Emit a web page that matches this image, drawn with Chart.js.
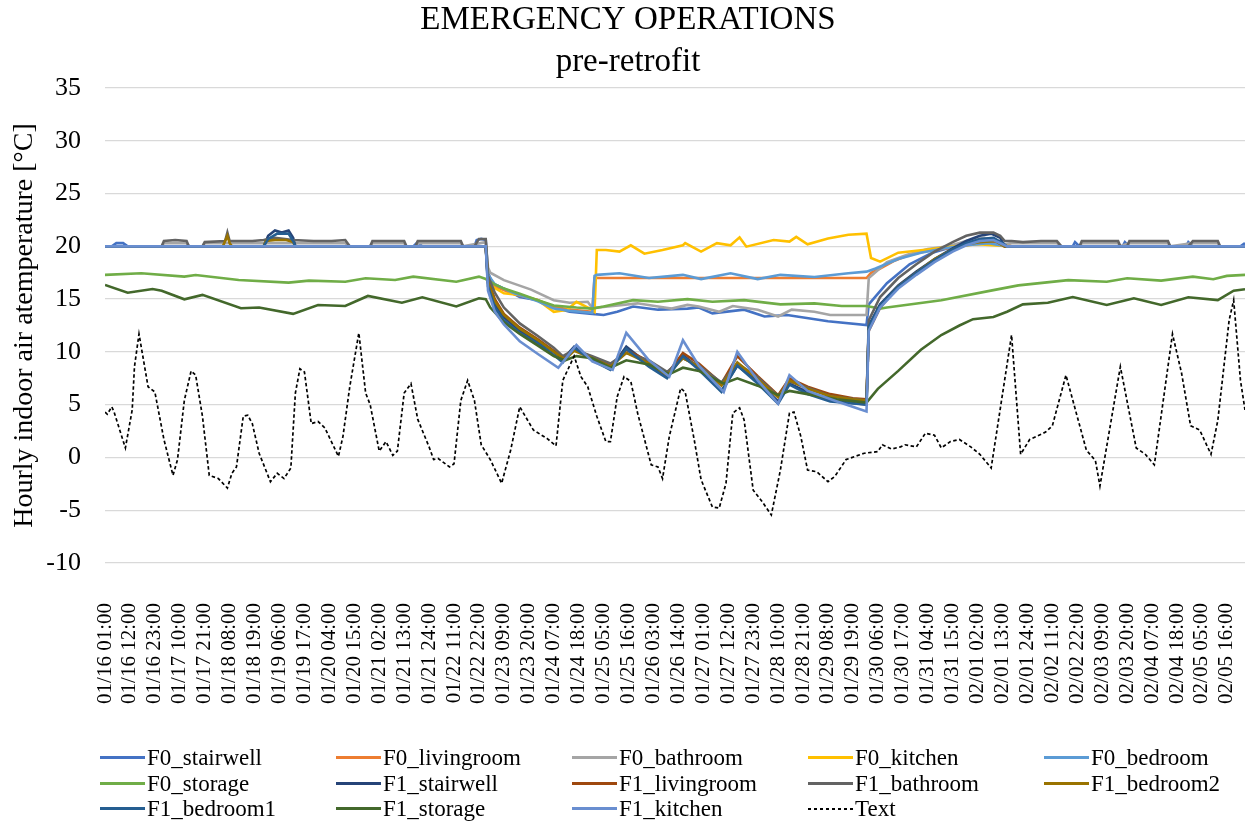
<!DOCTYPE html>
<html>
<head>
<meta charset="utf-8">
<title>Emergency operations - pre-retrofit</title>
<script src="https://cdn.jsdelivr.net/npm/chart.js@4.4.1/dist/chart.umd.min.js"></script>
<style>
  body { margin: 0; background: #fff; }
  #wrap { position: relative; width: 1248px; height: 822px; }
  #legend {
    position: absolute; left: 100px; top: 745px;
    display: grid; grid-template-columns: repeat(5, 236px);
    font-family: "Liberation Serif", "Times New Roman", serif;
    font-size: 23px; line-height: 25.5px; color: #000;
  }
  .item { display: flex; align-items: center; white-space: nowrap; }
  .swatch { width: 45px; height: 3px; margin-right: 2px; }
</style>
</head>
<body>
<div id="wrap">
  <canvas id="myChart" width="1248" height="822"></canvas>
  <div id="legend"></div>
</div>
<script>
// x = hour index (0 = 01/16 01:00, 503 = 02/05 24:00), y = °C
const tickLabels = [
  '01/16 01:00','01/16 12:00','01/16 23:00','01/17 10:00','01/17 21:00','01/18 08:00',
  '01/18 19:00','01/19 06:00','01/19 17:00','01/20 04:00','01/20 15:00','01/21 02:00',
  '01/21 13:00','01/21 24:00','01/22 11:00','01/22 22:00','01/23 09:00','01/23 20:00',
  '01/24 07:00','01/24 18:00','01/25 05:00','01/25 16:00','01/26 03:00','01/26 14:00',
  '01/27 01:00','01/27 12:00','01/27 23:00','01/28 10:00','01/28 21:00','01/29 08:00',
  '01/29 19:00','01/30 06:00','01/30 17:00','01/31 04:00','01/31 15:00','02/01 02:00',
  '02/01 13:00','02/01 24:00','02/02 11:00','02/02 22:00','02/03 09:00','02/03 20:00',
  '02/04 07:00','02/04 18:00','02/05 05:00','02/05 16:00'
]
const tickHours = tickLabels.map((l, i) => i * 11)

const seriesNames = [
  'F0_stairwell','F0_livingroom','F0_bathroom','F0_kitchen','F0_bedroom',
  'F0_storage','F1_stairwell','F1_livingroom','F1_bathroom','F1_bedroom2',
  'F1_bedroom1','F1_storage','F1_kitchen','Text'
]

const f0Stairwell = [[0,20],[3,20],[5,20.3],[8,20.3],[10,20],[136,20],[138,20.4],[140,20],[163,20],[164,20.6],[166,20.7],[168,20.6],
  [169,17.5],[171,16.5],[176,16.0],[183,15.2],[191,14.9],[198,14.2],[205,13.8],[215,13.6],[220,13.5],[226,13.8],[233,14.3],
  [244,14.0],[257,14.1],[262,14.2],[268,13.65],[282,14.0],[291,13.35],[301,13.5],[319,12.9],[336,12.55],
  [337,14.5],[345,16.5],[355,18.3],[365,19.4],[375,20.0],[385,20.3],[395,20.2],[400,20],[427,20],[428,20.4],[430,20],
  [449,20],[450,20.4],[452,20],[477,20],[478,20.4],[480,20],[501,20],[503,20.3]]
const f0Livingroom = [[0,20],[168,20],[169,17.0],[172,16.2],[180,15.5],[191,14.9],[198,14.3],[205,14.0],[215,13.8],
  [216,17.0],[336,17.0],[338,17.5],[342,17.9],[348,18.6],[355,19.2],[364,19.6],[375,19.9],[385,20.3],[395,20.3],[400,20],[503,20]]
const f0Bathroom = [[0,20],[25,20],[26,20.3],[36,20.3],[37,20],[43,20],[44,20.3],[106,20.3],[108,20],[117,20],[118,20.3],
  [132,20.3],[133,20],[137,20],[138,20.3],[157,20.3],[158,20],[168,20.4],
  [169,18.0],[170,17.5],[176,16.8],[188,15.9],[198,14.9],[205,14.66],[213,14.75],[215,14.15],[222,14.3],[235,14.6],
  [244,14.3],[250,14.1],[257,14.45],[262,14.3],[271,13.8],[277,14.35],[288,14.0],[297,13.35],[303,14.0],[313,13.8],
  [320,13.5],[336,13.5],[337,17.0],[345,18.5],[354,19.2],[363,19.75],[372,20.0],[380,20.5],[388,20.8],[393,20.5],
  [397,20.2],[400,20.3],[420,20.3],[422,20],[430,20],[431,20.3],[447,20.3],[448,20],[452,20.3],[469,20.3],[470,20],
  [480,20.3],[491,20.3],[492,20],[503,20]]
const f0Kitchen = [[0,20],[168,20],[169,17.0],[170,16.3],[176,15.55],[183,15.4],[191,14.9],[198,13.8],[204,14.0],
  [208,14.75],[214,14.1],[216,13.8],[217,19.65],[221,19.65],[227,19.5],[232,20.1],[238,19.3],[246,19.65],[255,20.1],
  [256,20.3],[263,19.5],[270,20.3],[276,20.1],[280,20.85],[283,19.97],[295,20.6],[302,20.45],[305,20.9],[310,20.2],
  [319,20.75],[328,21.1],[336,21.2],[338,18.9],[342,18.55],[350,19.4],[363,19.7],[375,20.0],[385,20.2],[400,20],[503,20]]
const f0Bedroom = [[0,20],[168,20],[169,17.3],[172,16.4],[180,15.6],[191,14.8],[198,14.1],[205,13.9],[215,13.7],
  [216,17.2],[217,17.3],[227,17.45],[240,17.0],[255,17.3],[263,16.9],[276,17.45],[288,16.9],[298,17.3],[313,17.1],
  [328,17.45],[336,17.6],[340,17.9],[350,18.8],[360,19.4],[370,19.8],[380,20.1],[390,20.3],[398,20],[503,20]]
const f0Storage = [[0,17.3],[16,17.45],[35,17.13],[40,17.28],[59,16.81],[81,16.56],[90,16.75],[106,16.65],[115,16.97],
  [128,16.81],[136,17.13],[155,16.65],[165,17.13],[168,16.9],[172,16.4],[176,16.0],[183,15.5],[191,14.9],[198,14.4],
  [208,14.2],[215,14.1],[220,14.3],[233,14.9],[244,14.75],[257,15.0],[268,14.75],[282,14.9],[298,14.5],[313,14.6],
  [325,14.35],[336,14.35],[342,14.1],[345,14.2],[369,14.9],[392,15.85],[403,16.3],[425,16.8],[442,16.65],[451,16.97],
  [466,16.75],[480,17.13],[489,16.88],[495,17.2],[503,17.3]]
const f1Stairwell = [[0,20],[70,20],[72,21.0],[75,21.5],[78,21.3],[81,21.5],[83,20.8],[84,20],[168,20],
  [169,16.5],[172,14.5],[176,13.3],[183,12.0],[191,11.0],[198,10.0],[202,9.3],[207,10.5],[215,9.3],[223,8.4],[230,10.5],
  [240,8.8],[248,7.6],[255,9.7],[262,8.5],[272,6.3],[279,8.7],[288,7.2],[297,5.3],[302,7.0],[310,6.2],[320,5.4],[336,5.0],
  [337,12.5],[342,14.5],[350,16.3],[358,17.6],[366,18.8],[374,19.8],[380,20.5],[386,21.0],[391,21.2],[395,20.8],[397,20],[503,20]]
const f1Livingroom = [[0,20],[168,20],[169,16.8],[172,15.0],[176,13.6],[183,12.3],[191,11.2],[198,10.1],[203,9.4],
  [207,10.3],[215,9.5],[223,8.7],[230,10.2],[240,9.1],[248,7.9],[255,9.9],[262,8.9],[272,7.0],[279,9.6],[288,7.7],
  [297,5.9],[302,7.5],[310,6.7],[320,6.0],[330,5.6],[336,5.5],[337,12.0],[342,14.2],[350,16.2],[358,17.5],[366,18.7],
  [374,19.6],[380,20.2],[386,20.5],[393,20.5],[397,20],[503,20]]
const f1Bathroom = [[0,20],[25,20],[26,20.5],[31,20.6],[36,20.5],[37,20],[43,20],[44,20.4],[53,20.5],[54,21.3],[55,20.5],
  [65,20.5],[70,20.6],[75,20.8],[83,20.6],[92,20.5],[100,20.5],[106,20.6],[108,20],[117,20],[118,20.5],[132,20.5],
  [133,20],[137,20],[138,20.5],[157,20.5],[158,20],[163,20],[165,20.7],[168,20.7],
  [169,17.2],[172,15.6],[176,14.2],[183,12.7],[191,11.5],[198,10.4],[202,9.6],[207,10.2],[215,9.6],[223,8.9],[230,9.9],
  [240,9.2],[248,8.1],[255,9.4],[262,8.7],[272,7.1],[279,8.9],[288,7.6],[297,5.8],[302,7.2],[310,6.6],[320,5.8],[336,5.4],
  [337,13.0],[342,15.2],[350,17.0],[358,18.3],[366,19.5],[374,20.4],[380,21.0],[386,21.3],[392,21.3],[395,21.0],
  [397,20.5],[400,20.5],[405,20.4],[413,20.5],[420,20.5],[422,20],[430,20],[431,20.5],[447,20.5],[448,20],[451,20],
  [452,20.5],[469,20.5],[470,20],[478,20],[480,20.5],[491,20.5],[492,20],[503,20]]
const f1Bedroom2 = [[0,20],[52,20],[53,20.5],[54,21.0],[55,20.3],[56,20],[70,20],[71,20.5],[75,20.6],[80,20.6],[83,20.4],
  [84,20],[168,20],[169,16.6],[172,14.8],[176,13.5],[183,12.2],[191,11.1],[198,10.0],[203,9.3],[207,10.1],[215,9.4],
  [223,8.6],[230,9.9],[240,8.9],[248,7.8],[255,9.4],[262,8.6],[272,6.8],[279,9.0],[288,7.4],[297,5.7],[302,7.3],[310,6.5],
  [320,5.8],[330,5.5],[336,5.4],[337,12.2],[342,14.3],[350,16.2],[358,17.5],[366,18.8],[374,19.7],[380,20.2],[386,20.4],
  [393,20.5],[397,20],[503,20]]
const f1Bedroom1 = [[0,20],[70,20],[72,20.7],[76,21.2],[81,21.2],[83,20.5],[84,20],[168,20],[169,16.2],[172,14.2],
  [176,13.0],[183,11.8],[191,10.8],[198,9.7],[202,9.0],[207,10.4],[215,9.2],[223,8.3],[230,10.3],[240,8.6],[248,7.5],
  [255,9.6],[262,8.3],[272,6.2],[279,8.7],[288,7.0],[297,5.1],[302,6.9],[310,6.0],[320,5.3],[336,5.0],[337,12.4],
  [342,14.4],[350,16.2],[358,17.5],[366,18.7],[374,19.7],[380,20.3],[386,20.7],[392,20.8],[396,20.3],[398,20],[503,20]]
const f1Storage = [[0,16.34],[10,15.6],[21,15.96],[25,15.8],[35,14.98],[43,15.4],[60,14.13],[68,14.2],[83,13.6],[94,14.44],
  [106,14.35],[116,15.3],[131,14.66],[140,15.17],[155,14.3],[165,15.08],[168,15.0],[170,14.2],[176,12.8],[183,11.7],
  [191,10.6],[198,9.6],[203,9.2],[208,9.6],[215,9.4],[223,8.5],[230,9.2],[240,8.8],[249,7.9],[255,8.5],[262,8.2],
  [273,7.0],[279,7.5],[288,6.8],[297,5.9],[302,6.3],[310,6.0],[323,5.5],[336,5.2],[341,6.5],[350,8.2],[360,10.2],
  [369,11.6],[377,12.5],[383,13.1],[392,13.3],[398,13.8],[405,14.5],[416,14.66],[427,15.2],[442,14.44],[454,15.08],
  [466,14.44],[478,15.17],[491,14.9],[498,15.8],[503,15.93]]
const f1Kitchen = [[0,20],[168,20],[169,15.8],[172,13.8],[176,12.6],[183,11.0],[191,9.8],[200,8.5],[208,10.65],
  [215,9.1],[224,8.3],[230,11.8],[240,9.2],[249,7.65],[255,11.1],[262,8.7],[273,6.2],[279,10.0],[288,7.3],[297,5.1],
  [302,7.8],[310,6.3],[323,5.3],[336,4.35],[337,12.0],[342,14.2],[350,16.0],[358,17.3],[366,18.5],[374,19.5],[380,20.1],
  [386,20.5],[392,20.6],[396,20.2],[398,20],[503,20]]
const outdoorText = [[0,4.3],[1,4.1],[3,4.8],[4,4.3],[9,0.9],[12,4.5],[13,8.6],[15,11.7],[19,6.7],[22,6.2],[26,1.7],
  [30,-1.7],[32,-0.2],[35,5.4],[38,8.2],[40,7.8],[43,3.9],[46,-1.7],[50,-2.0],[54,-2.9],[56,-1.5],[58,-0.9],[61,3.9],
  [63,4.0],[65,3.2],[68,0.4],[73,-2.3],[76,-1.5],[79,-2.0],[82,-1.0],[84,6.1],[86,8.4],[88,8.1],[91,3.2],[94,3.4],
  [97,2.8],[103,0.1],[105,2.0],[108,6.7],[112,11.8],[115,6.1],[117,5.0],[121,0.6],[124,1.5],[127,0.2],[129,0.6],
  [132,6.1],[135,7.0],[138,3.6],[143,1.0],[145,-0.2],[147,-0.1],[152,-0.9],[154,-0.6],[157,5.4],[160,7.3],[163,5.4],
  [166,1.2],[170,-0.2],[175,-2.45],[179,0.7],[183,4.8],[189,2.6],[195,1.8],[199,1.1],[202,7.3],[207,9.6],[210,7.65],
  [213,6.7],[217,3.9],[221,1.5],[223,1.5],[226,5.75],[229,7.65],[232,7.2],[235,4.2],[241,-0.7],[244,-0.9],[246,-2.0],
  [249,2.0],[254,6.55],[256,6.2],[260,1.65],[263,-2.1],[268,-4.7],[271,-4.8],[274,-2.45],[277,4.2],[280,4.7],[282,3.55],
  [286,-3.1],[290,-4.2],[294,-5.45],[298,-1.2],[302,4.2],[304,4.3],[307,2.0],[310,-1.2],[314,-1.35],[319,-2.3],
  [322,-1.8],[327,-0.2],[335,0.4],[341,0.55],[343,1.2],[347,0.8],[351,1.0],[353,1.2],[358,1.0],[362,2.3],[366,2.1],
  [369,0.9],[373,1.5],[377,1.7],[382,1.0],[386,0.3],[391,-1.0],[400,11.6],[404,0.3],[408,1.7],[415,2.4],[418,3.0],
  [424,7.8],[433,0.7],[437,-0.3],[439,-2.7],[448,8.6],[455,0.9],[459,0.3],[463,-0.7],[471,11.7],[475,8.0],[479,3.0],
  [483,2.6],[488,0.3],[491,3.5],[496,13.0],[498,14.9],[501,7.3],[503,4.5]]

const seriesData = [f0Stairwell, f0Livingroom, f0Bathroom, f0Kitchen, f0Bedroom, f0Storage, f1Stairwell,
  f1Livingroom, f1Bathroom, f1Bedroom2, f1Bedroom1, f1Storage, f1Kitchen, outdoorText]

const seriesColors = ['#4472C4','#ED7D31','#A5A5A5','#FFC000','#5B9BD5','#70AD47','#264478',
  '#9E480E','#636363','#997300','#255E91','#43682B','#698ED0','#000000']

const serif = '"Liberation Serif", "Times New Roman", serif'

const datasets = seriesNames.map((name, i) => {
  const isText = name === 'Text'
  return {
    label: name,
    data: seriesData[i].map(([x, y]) => ({x, y})),
    borderColor: seriesColors[i],
    backgroundColor: seriesColors[i],
    borderWidth: isText ? 1.7 : 2.6,
    borderDash: isText ? [3.5, 2.5] : [],
    pointRadius: 0,
    tension: 0,
    fill: false,
    order: -i   // later series on top, like the original
  }
})

const chart = new Chart(document.getElementById('myChart'), {
  type: 'line',
  data: { datasets },
  options: {
    responsive: false,
    animation: false,
    layout: { padding: { left: 8, right: 0, top: 0, bottom: 115 } },
    plugins: {
      legend: { display: false },
      tooltip: { enabled: false },
      title: {
        display: true,
        text: ['EMERGENCY OPERATIONS', 'pre-retrofit'],
        color: '#000',
        font: { family: serif, size: 33, weight: 'normal', lineHeight: 1.25 },
        padding: { top: 0, bottom: 5.5 }
      }
    },
    scales: {
      x: {
        type: 'linear',
        min: 0,
        max: 503,
        afterBuildTicks: scale => { scale.ticks = tickHours.map(v => ({ value: v })) },
        // fixed band for the rotated labels, no extra side padding
        afterFit: scale => { scale.height = 144; scale.paddingLeft = 0; scale.paddingRight = 3 },
        grid: { display: false, drawTicks: false },
        border: { display: false },
        ticks: {
          autoSkip: false,
          minRotation: 90,
          maxRotation: 90,
          padding: 40,
          color: '#000',
          font: { family: serif, size: 21 },
          callback: value => tickLabels[tickHours.indexOf(value)]
        }
      },
      y: {
        min: -10,
        max: 35,
        afterFit: scale => { scale.width = 97 },
        grid: { color: '#d9d9d9', lineWidth: 1.3, drawTicks: false },
        border: { display: false },
        ticks: {
          stepSize: 5,
          padding: 24,
          color: '#000',
          font: { family: serif, size: 26 }
        },
        title: {
          display: true,
          text: 'Hourly indoor air atemperature [°C]',
          color: '#000',
          font: { family: serif, size: 28 },
          padding: { top: 0, bottom: 4 }
        }
      }
    }
  }
})

// legend in 5 fixed columns, like the original
const legendBox = document.getElementById('legend')
chart.data.datasets.forEach(ds => {
  const item = document.createElement('div')
  item.className = 'item'
  const sw = document.createElement('span')
  sw.className = 'swatch'
  if (ds.borderDash.length) {
    sw.style.height = '1.7px'
    sw.style.background = 'repeating-linear-gradient(90deg, #000 0 3.5px, transparent 3.5px 6px)'
  } else {
    sw.style.background = ds.borderColor
  }
  item.appendChild(sw)
  item.appendChild(document.createTextNode(ds.label))
  legendBox.appendChild(item)
})
</script>
</body>
</html>
